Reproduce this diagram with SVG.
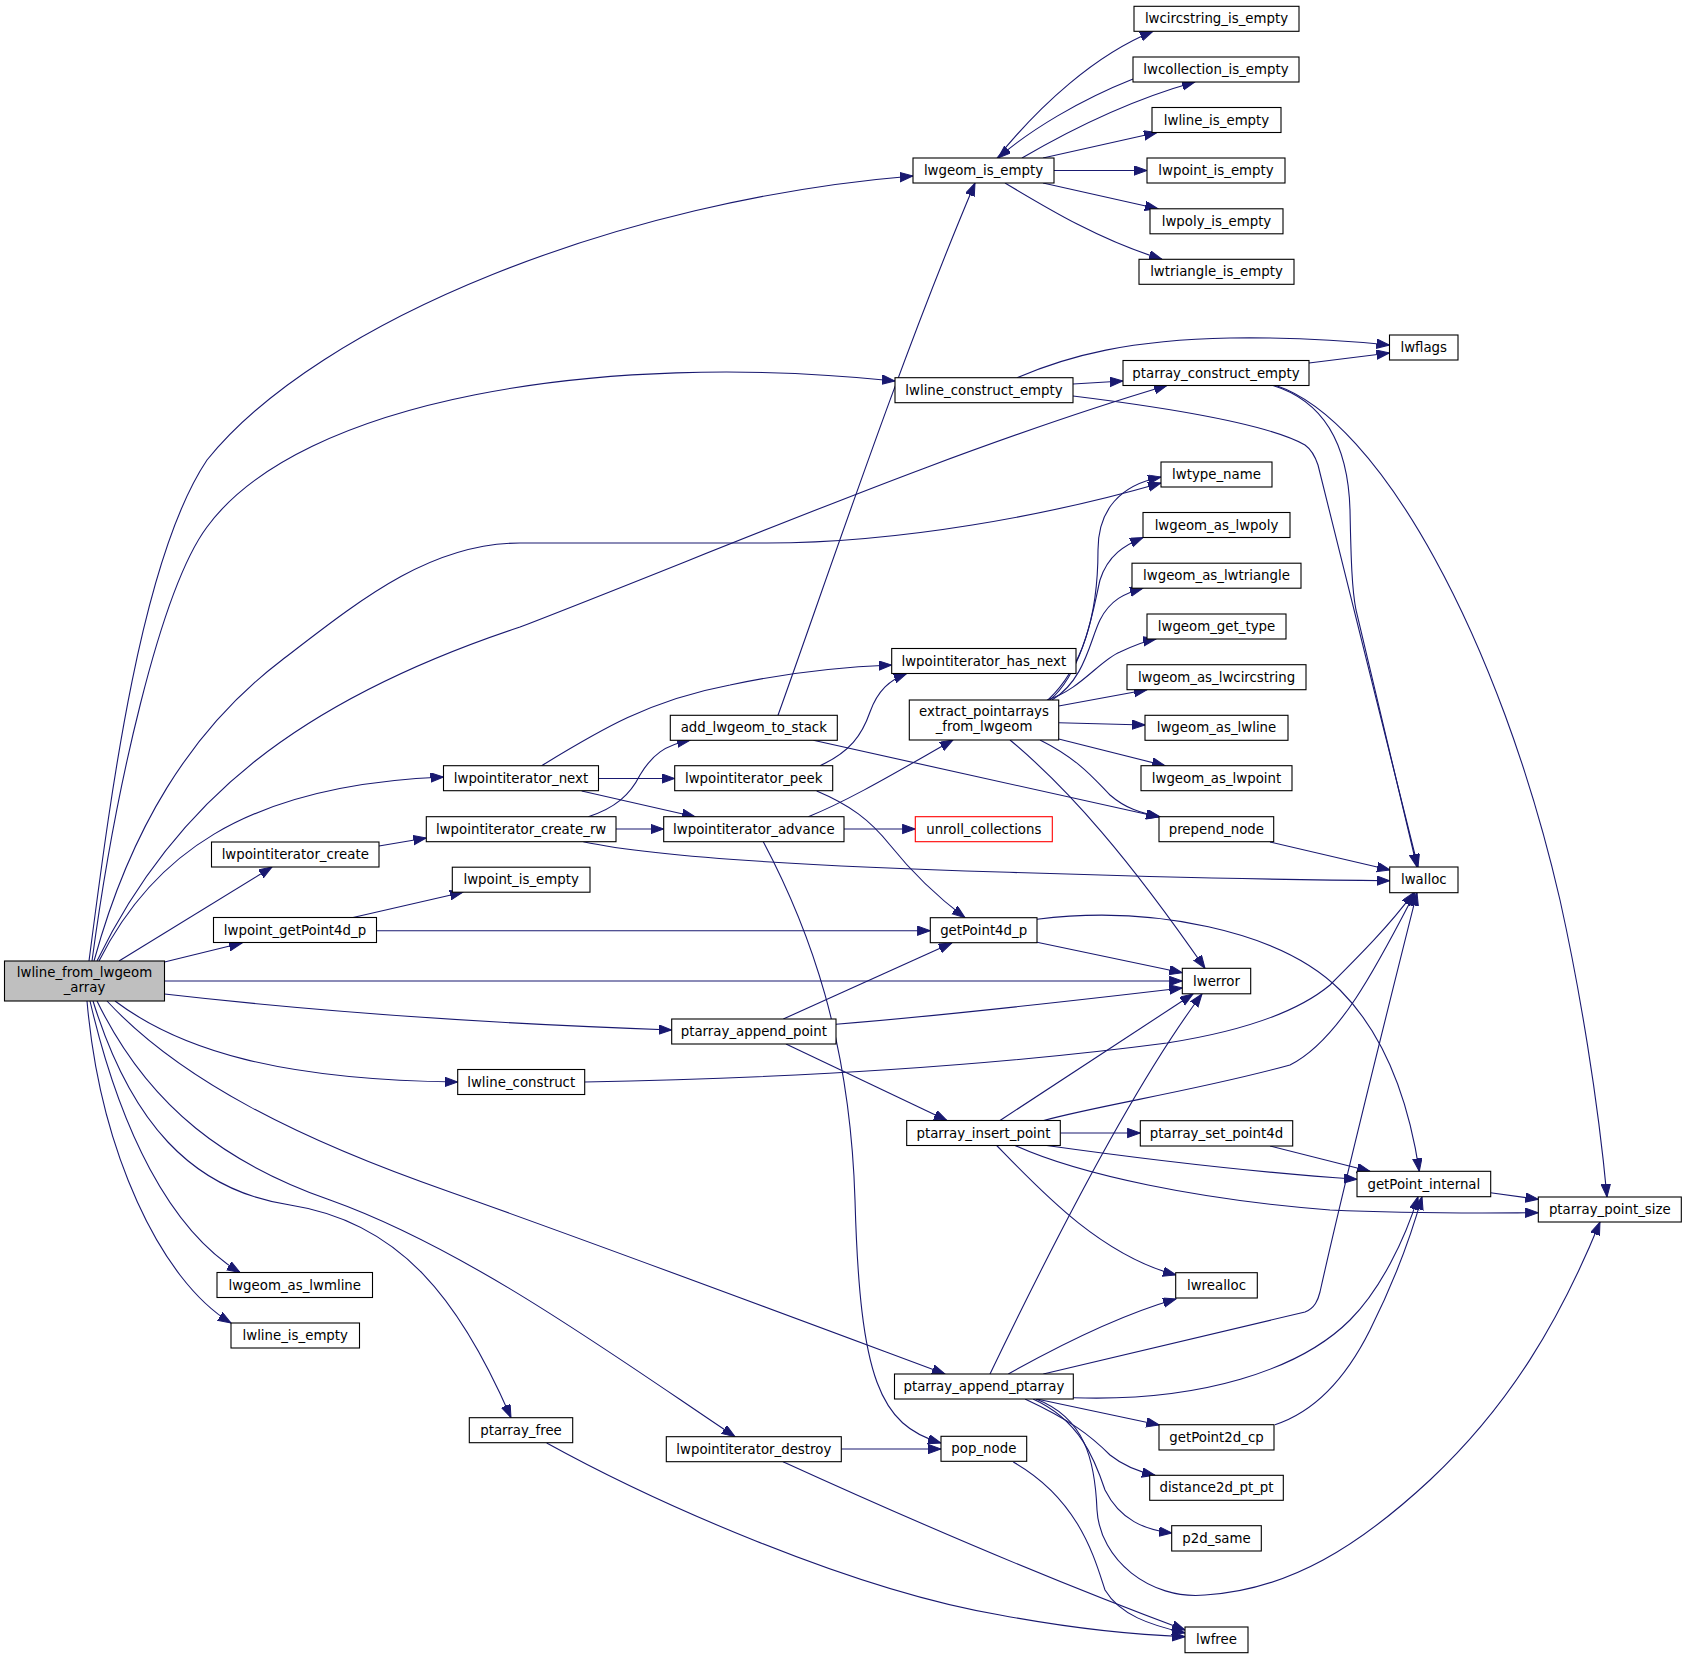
<svg xmlns="http://www.w3.org/2000/svg" width="1687" height="1659" viewBox="0 0 1687 1659">
<defs>
<style>
.n rect{fill:#fff;stroke:#000;stroke-width:1.1}
.n.main rect{fill:#bfbfbf}
.n.red rect{stroke:#ff0000}
.n text{font-family:"DejaVu Sans",sans-serif;font-size:13.33px;text-anchor:middle;fill:#000}
.e path{fill:none;stroke:#191970;stroke-width:1.1;marker-end:url(#ah)}
</style>
<marker id="ah" markerUnits="userSpaceOnUse" markerWidth="14" markerHeight="11" refX="13" refY="4.7" orient="auto">
<path d="M0,0 L13,4.7 L0,9.4 z" fill="#191970" stroke="#191970" stroke-width="1"/>
</marker>
</defs>
<rect x="0" y="0" width="1687" height="1659" fill="#fff"/>
<g id="edges" class="e">
<path d="M89,961 C110,800 140,560 207,460 C320,320 620,200 913,176"/>
<path d="M92,961 C115,790 160,590 207,527 C300,400 600,350 895,381"/>
<path d="M97,961 C175,800 300,700 520,627 C720,550 950,450 1167,385.5"/>
<path d="M94,961 C130,830 190,730 282,660 C360,600 430,543 520,543 L767,543 C900,543 1050,515 1161,483"/>
<path d="M99,961 C150,860 240,785 443.5,777"/>
<path d="M119,961 L272,867"/>
<path d="M164.5,962 L242,943"/>
<path d="M164.5,981 L1182.3,981"/>
<path d="M164.5,994 C330,1013 500,1024 671.7,1030"/>
<path d="M115,1001 C180,1050 280,1080 457.7,1082"/>
<path d="M107,1001 C180,1080 300,1140 450,1192 C600,1245 800,1320 945,1374"/>
<path d="M97,1001 C150,1110 230,1165 330,1200 C470,1250 620,1360 735,1436.7"/>
<path d="M93,1001 C130,1120 190,1190 290,1205 C400,1222 460,1300 511,1417.7"/>
<path d="M90,1001 C120,1130 170,1230 240,1272.5"/>
<path d="M87,1001 C100,1150 160,1280 231,1323"/>
<path d="M997,158 C1040,105 1095,55 1153,31.3"/>
<path d="M1133,79 C1080,100 1030,130 998,158"/>
<path d="M1022,158 C1070,130 1130,100 1195,82"/>
<path d="M1043,158 L1157,132.5"/>
<path d="M1054,170.5 L1147,170.5"/>
<path d="M1043,183 L1158,208.8"/>
<path d="M1005,183 C1050,210 1100,240 1162,259.3"/>
<path d="M778,715.3 C830,570 900,360 975,183"/>
<path d="M1017,377.7 C1070,355 1130,340 1230,338 C1300,337 1350,341 1389.5,345"/>
<path d="M1073,384 L1123,381"/>
<path d="M1073,396 C1170,408 1270,425 1305,445 C1312,450 1315,456 1318,465 L1418,867"/>
<path d="M1309,363 L1389.5,353"/>
<path d="M1273,385.5 C1320,400 1348,440 1350,510 C1351,560 1352,590 1356,610 L1417,867"/>
<path d="M1276,385.5 C1380,420 1500,640 1560,900 C1580,990 1598,1100 1607,1197"/>
<path d="M1058.7,706 L1147,689.7"/>
<path d="M1058.7,722.7 L1145,725"/>
<path d="M1058.7,739 L1165,765.7"/>
<path d="M1040,740 C1080,760 1095,780 1110,795 C1125,808 1140,813 1160,816.7"/>
<path d="M1010,740 C1070,790 1130,860 1205,968.3"/>
<path d="M1047,700 C1080,690 1100,660 1120,652 C1135,645 1145,641 1156,639"/>
<path d="M1052,700 C1085,680 1090,640 1100,620 C1110,600 1125,593 1143,588.2"/>
<path d="M1050,700 C1085,670 1095,600 1100,580 C1108,555 1125,545 1143,537.5"/>
<path d="M1048,700 C1090,660 1098,600 1098,550 C1098,510 1120,485 1161,477"/>
<path d="M541.7,765.7 C600,730 650,700 730,685 C790,672 840,667 891.7,665"/>
<path d="M598.5,778.5 L674.7,778.5"/>
<path d="M581.7,791 L695,816.7"/>
<path d="M379,846 L426.3,838"/>
<path d="M588.3,816.7 C615,808 630,795 640,775 C652,755 665,745 690,740.3"/>
<path d="M616,829 L663.7,829"/>
<path d="M583.3,841.7 C650,856 800,866 1000,872 C1150,877 1300,880 1389.7,880.7"/>
<path d="M820,765.7 C850,752 862,735 870,712 C878,690 890,680 906.7,673.5"/>
<path d="M816.7,791 C850,805 870,820 890,845 C910,870 935,895 965,917.7"/>
<path d="M808.3,816.7 C850,800 900,770 953,740"/>
<path d="M844,829 L915.3,829"/>
<path d="M763.3,841.7 C810,930 850,1040 855,1200 C860,1380 880,1425 941,1443"/>
<path d="M353,917.5 L463,892.2"/>
<path d="M376.5,930.7 L930.3,930.7"/>
<path d="M1037,942.3 L1182.3,972.7"/>
<path d="M1037,919.3 C1150,905 1280,930 1340,990 C1390,1040 1410,1110 1419.3,1171.3"/>
<path d="M783.3,1019 L951.7,943"/>
<path d="M836,1024.3 C950,1015 1080,1000 1182.3,988"/>
<path d="M786,1044 L947,1120.5"/>
<path d="M584.7,1082 C800,1078 1000,1065 1167,1043 C1250,1030 1300,1010 1330,985 C1360,955 1390,925 1413.7,892.7"/>
<path d="M1000,1120.5 L1193,994"/>
<path d="M1043.6,1120.5 C1100,1105 1200,1090 1290,1065 C1340,1040 1380,960 1415,892.7"/>
<path d="M1060.3,1133 L1140.3,1133"/>
<path d="M1046.7,1145.5 C1150,1160 1250,1172 1357,1179.3"/>
<path d="M1015,1145.5 C1080,1175 1200,1200 1330,1210 C1420,1214 1480,1213 1538.3,1212.7"/>
<path d="M996.7,1145.5 C1040,1190 1100,1255 1176,1275"/>
<path d="M1270,1146 L1370,1171.3"/>
<path d="M1490.5,1192.7 L1538.3,1199.3"/>
<path d="M990,1374 C1040,1270 1130,1090 1202,994"/>
<path d="M1008.3,1374 C1060,1345 1120,1315 1176,1299"/>
<path d="M1043.3,1374 L1305,1312 C1315,1308 1318,1300 1320,1292 C1345,1180 1385,1020 1417,892.7"/>
<path d="M1073.3,1397.7 C1200,1402 1300,1370 1350,1320 C1380,1290 1405,1240 1418,1196.7"/>
<path d="M1036.7,1399 L1159.3,1425"/>
<path d="M1025,1399 C1070,1420 1090,1435 1110,1455 C1125,1467 1140,1472 1155,1475.3"/>
<path d="M1033,1399 C1080,1420 1095,1460 1105,1490 C1120,1520 1145,1530 1172,1533"/>
<path d="M1036,1399 C1085,1418 1095,1460 1097,1510 C1100,1560 1150,1600 1205,1595 C1290,1590 1360,1545 1430,1480 C1510,1405 1560,1320 1600,1222"/>
<path d="M1275,1424.7 C1320,1410 1350,1370 1370,1330 C1395,1280 1410,1240 1422,1196.7"/>
<path d="M841.3,1449 L941,1449"/>
<path d="M783,1461.7 C900,1515 1050,1580 1185,1630"/>
<path d="M1013.3,1462 C1080,1500 1095,1560 1105,1590 C1120,1615 1150,1625 1185,1633"/>
<path d="M546.7,1443 C650,1500 850,1590 1000,1615 C1080,1630 1140,1635 1185,1636.7"/>
<path d="M1270,842 L1390,870"/>
<path d="M813.3,740.3 L1159,817"/>
</g>
<g id="n_main" class="n main"><rect x="4.5" y="961" width="160" height="40"/><text x="84.5" y="977">lwline_from_lwgeom</text><text x="84.5" y="992">_array</text></g>
<g id="n_lwpointiterator_create" class="n"><rect x="211.5" y="842" width="167.5" height="25"/><text x="295.25" y="859">lwpointiterator_create</text></g>
<g id="n_lwpoint_getPoint4d_p" class="n"><rect x="213.5" y="917.5" width="163" height="25"/><text x="295" y="934.5">lwpoint_getPoint4d_p</text></g>
<g id="n_lwgeom_as_lwmline" class="n"><rect x="217" y="1272.5" width="155.5" height="25"/><text x="294.75" y="1289.5">lwgeom_as_lwmline</text></g>
<g id="n_lwline_is_empty2" class="n"><rect x="231" y="1323" width="128.5" height="25"/><text x="295.25" y="1340">lwline_is_empty</text></g>
<g id="n_lwpointiterator_next" class="n"><rect x="443.5" y="765.7" width="155" height="25"/><text x="521" y="782.7">lwpointiterator_next</text></g>
<g id="n_lwpointiterator_create_rw" class="n"><rect x="426.3" y="816.7" width="189.7" height="25"/><text x="521.15" y="833.7">lwpointiterator_create_rw</text></g>
<g id="n_lwpoint_is_empty2" class="n"><rect x="452.3" y="867.2" width="137.7" height="25"/><text x="521.15" y="884.2">lwpoint_is_empty</text></g>
<g id="n_lwline_construct" class="n"><rect x="457.7" y="1069.5" width="127" height="25"/><text x="521.2" y="1086.5">lwline_construct</text></g>
<g id="n_ptarray_free" class="n"><rect x="469.3" y="1417.7" width="103.4" height="25"/><text x="521" y="1434.7">ptarray_free</text></g>
<g id="n_add_lwgeom_to_stack" class="n"><rect x="670.3" y="715.3" width="167" height="25"/><text x="753.8" y="732.3">add_lwgeom_to_stack</text></g>
<g id="n_lwpointiterator_peek" class="n"><rect x="674.7" y="765.7" width="158" height="25"/><text x="753.7" y="782.7">lwpointiterator_peek</text></g>
<g id="n_lwpointiterator_advance" class="n"><rect x="663.7" y="816.7" width="180.3" height="25"/><text x="753.85" y="833.7">lwpointiterator_advance</text></g>
<g id="n_ptarray_append_point" class="n"><rect x="671.7" y="1019" width="164.3" height="25"/><text x="753.85" y="1036">ptarray_append_point</text></g>
<g id="n_lwpointiterator_destroy" class="n"><rect x="666.3" y="1436.7" width="175" height="25"/><text x="753.8" y="1453.7">lwpointiterator_destroy</text></g>
<g id="n_lwgeom_is_empty" class="n"><rect x="913" y="158" width="141" height="25"/><text x="983.5" y="175">lwgeom_is_empty</text></g>
<g id="n_lwline_construct_empty" class="n"><rect x="895" y="377.7" width="178" height="25"/><text x="984" y="394.7">lwline_construct_empty</text></g>
<g id="n_lwpointiterator_has_next" class="n"><rect x="891.7" y="648.5" width="184.3" height="25"/><text x="983.85" y="665.5">lwpointiterator_has_next</text></g>
<g id="n_extract_pointarrays_from_lwgeom" class="n"><rect x="909.3" y="700" width="149.4" height="40"/><text x="984" y="716">extract_pointarrays</text><text x="984" y="731">_from_lwgeom</text></g>
<g id="n_unroll_collections" class="n red"><rect x="915.3" y="816.7" width="137" height="25"/><text x="983.8" y="833.7">unroll_collections</text></g>
<g id="n_getPoint4d_p" class="n"><rect x="930.3" y="917.7" width="106.7" height="25"/><text x="983.65" y="934.7">getPoint4d_p</text></g>
<g id="n_ptarray_insert_point" class="n"><rect x="906.7" y="1120.5" width="153.6" height="25"/><text x="983.5" y="1137.5">ptarray_insert_point</text></g>
<g id="n_ptarray_append_ptarray" class="n"><rect x="894.5" y="1374" width="178.8" height="25"/><text x="983.9" y="1391">ptarray_append_ptarray</text></g>
<g id="n_pop_node" class="n"><rect x="941" y="1436.3" width="85.7" height="25"/><text x="983.85" y="1453.3">pop_node</text></g>
<g id="n_lwcircstring_is_empty" class="n"><rect x="1134" y="6.3" width="165" height="25"/><text x="1216.5" y="23.3">lwcircstring_is_empty</text></g>
<g id="n_lwcollection_is_empty" class="n"><rect x="1133" y="57" width="166" height="25"/><text x="1216" y="74">lwcollection_is_empty</text></g>
<g id="n_lwline_is_empty" class="n"><rect x="1152" y="107.5" width="129" height="25"/><text x="1216.5" y="124.5">lwline_is_empty</text></g>
<g id="n_lwpoint_is_empty" class="n"><rect x="1147" y="158" width="138" height="25"/><text x="1216" y="175">lwpoint_is_empty</text></g>
<g id="n_lwpoly_is_empty" class="n"><rect x="1150" y="208.8" width="133" height="25"/><text x="1216.5" y="225.8">lwpoly_is_empty</text></g>
<g id="n_lwtriangle_is_empty" class="n"><rect x="1139" y="259.3" width="155" height="25"/><text x="1216.5" y="276.3">lwtriangle_is_empty</text></g>
<g id="n_ptarray_construct_empty" class="n"><rect x="1123" y="360.5" width="186" height="25"/><text x="1216" y="377.5">ptarray_construct_empty</text></g>
<g id="n_lwtype_name" class="n"><rect x="1161" y="462" width="111" height="25"/><text x="1216.5" y="479">lwtype_name</text></g>
<g id="n_lwgeom_as_lwpoly" class="n"><rect x="1143" y="512.5" width="147" height="25"/><text x="1216.5" y="529.5">lwgeom_as_lwpoly</text></g>
<g id="n_lwgeom_as_lwtriangle" class="n"><rect x="1132" y="563.2" width="169" height="25"/><text x="1216.5" y="580.2">lwgeom_as_lwtriangle</text></g>
<g id="n_lwgeom_get_type" class="n"><rect x="1147" y="614" width="139" height="25"/><text x="1216.5" y="631">lwgeom_get_type</text></g>
<g id="n_lwgeom_as_lwcircstring" class="n"><rect x="1127" y="664.7" width="179" height="25"/><text x="1216.5" y="681.7">lwgeom_as_lwcircstring</text></g>
<g id="n_lwgeom_as_lwline" class="n"><rect x="1145" y="715.3" width="143" height="25"/><text x="1216.5" y="732.3">lwgeom_as_lwline</text></g>
<g id="n_lwgeom_as_lwpoint" class="n"><rect x="1141" y="765.7" width="151" height="25"/><text x="1216.5" y="782.7">lwgeom_as_lwpoint</text></g>
<g id="n_prepend_node" class="n"><rect x="1159" y="816.7" width="114.7" height="25"/><text x="1216.35" y="833.7">prepend_node</text></g>
<g id="n_lwerror" class="n"><rect x="1182.3" y="968.3" width="68.4" height="25.5"/><text x="1216.5" y="985.5">lwerror</text></g>
<g id="n_ptarray_set_point4d" class="n"><rect x="1140.3" y="1120.7" width="152.4" height="25.3"/><text x="1216.5" y="1137.8">ptarray_set_point4d</text></g>
<g id="n_lwrealloc" class="n"><rect x="1175.7" y="1272.7" width="81.6" height="25.3"/><text x="1216.5" y="1289.8">lwrealloc</text></g>
<g id="n_getPoint2d_cp" class="n"><rect x="1159" y="1424.7" width="115" height="25.3"/><text x="1216.5" y="1441.8">getPoint2d_cp</text></g>
<g id="n_distance2d_pt_pt" class="n"><rect x="1149.7" y="1475.3" width="133.6" height="25"/><text x="1216.5" y="1492.3">distance2d_pt_pt</text></g>
<g id="n_p2d_same" class="n"><rect x="1171.7" y="1525.7" width="89.6" height="25.3"/><text x="1216.5" y="1542.8">p2d_same</text></g>
<g id="n_lwfree" class="n"><rect x="1185" y="1627" width="63" height="25.7"/><text x="1216.5" y="1644.3">lwfree</text></g>
<g id="n_lwflags" class="n"><rect x="1389.5" y="335" width="68.5" height="25"/><text x="1423.75" y="352">lwflags</text></g>
<g id="n_lwalloc" class="n"><rect x="1389.7" y="867" width="68.3" height="25.7"/><text x="1423.85" y="884.3">lwalloc</text></g>
<g id="n_getPoint_internal" class="n"><rect x="1357" y="1171.3" width="133.7" height="25.4"/><text x="1423.85" y="1188.5">getPoint_internal</text></g>
<g id="n_ptarray_point_size" class="n"><rect x="1538.3" y="1197" width="143" height="25"/><text x="1609.8" y="1214">ptarray_point_size</text></g>
</svg>
